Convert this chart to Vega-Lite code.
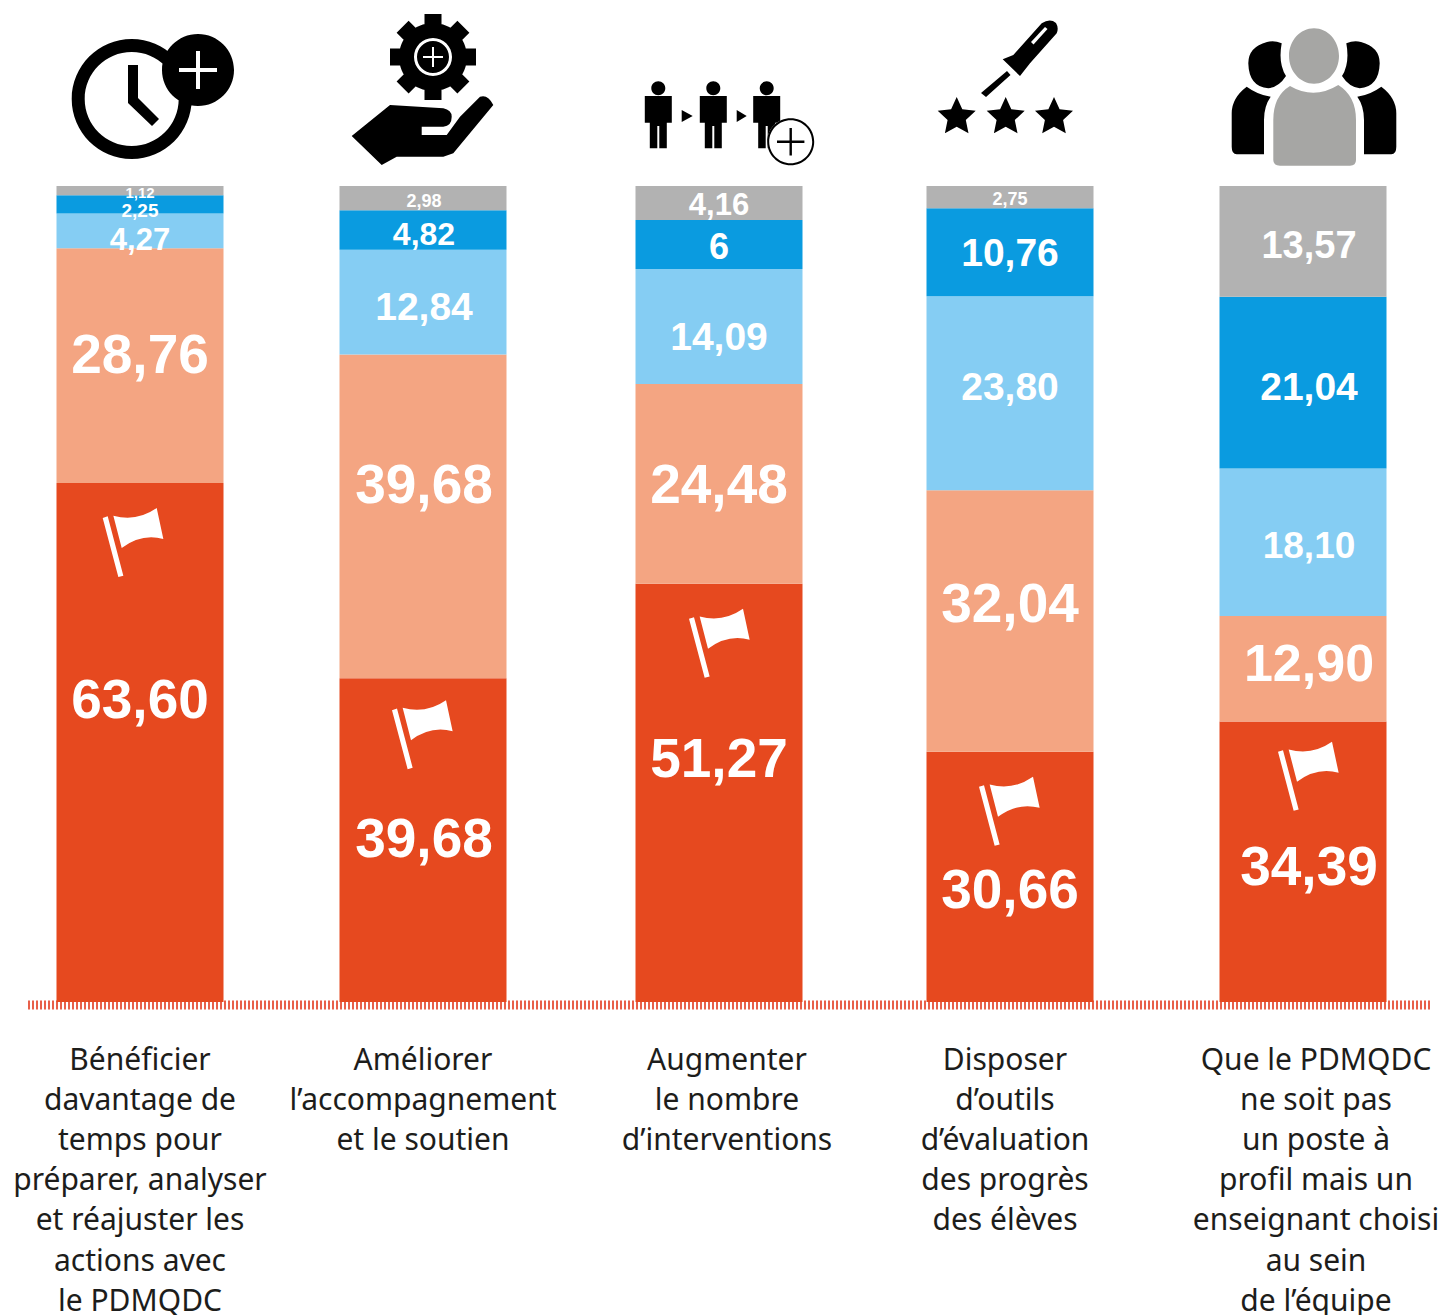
{
"$schema":"https://vega.github.io/schema/vega-lite/v6.json",
"width":1443,"height":1315,"padding":0,"autosize":{"type":"none"},"background":"white",
"config":{"view":{"stroke":null}},
"datasets":{
"bars":[
{"q":1,"level":1,"value":63.60,"label":"63,60"},{"q":1,"level":2,"value":28.76,"label":"28,76"},{"q":1,"level":3,"value":4.27,"label":"4,27"},{"q":1,"level":4,"value":2.25,"label":"2,25"},{"q":1,"level":5,"value":1.12,"label":"1,12"},
{"q":2,"level":1,"value":39.68,"label":"39,68"},{"q":2,"level":2,"value":39.68,"label":"39,68"},{"q":2,"level":3,"value":12.84,"label":"12,84"},{"q":2,"level":4,"value":4.82,"label":"4,82"},{"q":2,"level":5,"value":2.98,"label":"2,98"},
{"q":3,"level":1,"value":51.27,"label":"51,27"},{"q":3,"level":2,"value":24.48,"label":"24,48"},{"q":3,"level":3,"value":14.09,"label":"14,09"},{"q":3,"level":4,"value":6,"label":"6"},{"q":3,"level":5,"value":4.16,"label":"4,16"},
{"q":4,"level":1,"value":30.66,"label":"30,66"},{"q":4,"level":2,"value":32.04,"label":"32,04"},{"q":4,"level":3,"value":23.80,"label":"23,80"},{"q":4,"level":4,"value":10.76,"label":"10,76"},{"q":4,"level":5,"value":2.75,"label":"2,75"},
{"q":5,"level":1,"value":34.39,"label":"34,39"},{"q":5,"level":2,"value":12.90,"label":"12,90"},{"q":5,"level":3,"value":18.10,"label":"18,10"},{"q":5,"level":4,"value":21.04,"label":"21,04"},{"q":5,"level":5,"value":13.57,"label":"13,57"}
],
"cats":[
{"q":1,"at":-5.35,"text":"Bénéficier\ndavantage de\ntemps pour\npréparer, analyser\net réajuster les\nactions avec\nle PDMQDC"},
{"q":2,"at":-5.35,"text":"Améliorer\nl’accompagnement\net le soutien"},
{"q":3,"at":-5.35,"text":"Augmenter\nle nombre\nd’interventions"},
{"q":4,"at":-5.35,"text":"Disposer\nd’outils\nd’évaluation\ndes progrès\ndes élèves"},
{"q":5,"at":-5.35,"text":"Que le PDMQDC\nne soit pas\nun poste à\nprofil mais un\nenseignant choisi\nau sein\nde l’équipe"}
],
"flags":[{"q":1,"at":56.25},{"q":2,"at":32.7},{"q":3,"at":43.9},{"q":4,"at":23.3},{"q":5,"at":27.6}],
"icons":[
{"q":1,"part":"clock","at":111.76},{"q":1,"part":"clockplus","at":111.76},
{"q":2,"part":"gearhand","at":111.76},{"q":2,"part":"gearmark","at":111.76},
{"q":3,"part":"persons","at":111.76},{"q":3,"part":"disc","at":111.76},{"q":3,"part":"ringplus","at":111.76},
{"q":4,"part":"tool","at":111.76},{"q":4,"part":"slit","at":111.76},
{"q":5,"part":"sidepeople","at":111.76},{"q":5,"part":"leader","at":111.76}
]
},
"resolve":{"scale":{"x":"independent","color":"independent","fill":"independent","shape":"independent","size":"independent"}},
"layer":[
{"data":{"values":[{"from":28,"to":1430,"base":-0.37}]},
 "mark":{"type":"rule","color":"#E8604A","strokeWidth":9,"strokeDash":[2,2]},
 "encoding":{"x":{"field":"from","type":"quantitative","axis":null,"scale":{"domain":[0,1443],"range":[0,1443]}},"x2":{"field":"to"},"y":{"field":"base","type":"quantitative","axis":null,"scale":{"domain":[0,100],"range":[1002,186]}}}},
{"data":{"name":"bars"},
 "transform":[{"stack":"value","groupby":["q"],"sort":[{"field":"level","order":"ascending"}],"as":["y0","y1"]}],
 "mark":{"type":"bar","width":167,"orient":"vertical"},
 "encoding":{"x":{"field":"q","type":"quantitative","axis":null,"scale":{"domain":[1,2,3,4,5],"range":[140,423,719,1010,1303],"zero":false,"nice":false,"padding":0}},
 "y":{"field":"y0","type":"quantitative","axis":null,"scale":{"domain":[0,100],"range":[1002,186]}},"y2":{"field":"y1"},
 "color":{"field":"level","type":"nominal","legend":null,"scale":{"domain":[1,2,3,4,5],"range":["#E6491F","#F4A582","#85CDF3","#0A9BE0","#B2B2B2"]}}}},
{"data":{"name":"bars"},
 "transform":[{"stack":"value","groupby":["q"],"sort":[{"field":"level","order":"ascending"}],"as":["y0","y1"]},
 {"calculate":"({'63,60':-42,'28,76':-10,'4,27':10,'2,25':7,'1,12':2,'12,84':6,'4,82':5,'2,98':4,'51,27':-33,'24,48':2,'14,09':12,'6':4,'4,16':3,'30,66':14,'32,04':-16,'23,80':-5,'10,76':2,'2,75':3,'34,39':6,'12,90':-4,'18,10':5,'21,04':5,'13,57':6})[datum.label]||(datum.q===2&&datum.level===2?-30:0)","as":"shift"},
 {"calculate":"(datum.y0+datum.y1)/2-datum.shift/8.16","as":"labelAt"}],
 "mark":{"type":"text","font":"Liberation Sans","fontWeight":"bold","color":"white","baseline":"middle","align":"center"},
 "encoding":{"x":{"field":"q","type":"quantitative","axis":null,"scale":{"domain":[1,2,3,4,5],"range":[140,424,719,1010,1309],"zero":false,"nice":false}},
 "y":{"field":"labelAt","type":"quantitative","axis":null,"scale":{"domain":[0,100],"range":[1002,186]}},
 "text":{"field":"label","type":"nominal"},
 "size":{"field":"label","type":"ordinal","legend":null,"scale":{"type":"ordinal","domain":["63,60","28,76","39,68","51,27","24,48","32,04","30,66","34,39","12,90","12,84","14,09","23,80","18,10","21,04","13,57","10,76","4,82","4,16","6","4,27","2,25","1,12","2,98","2,75"],"range":[55,55,55,55,55,55,55,55,52,39,39,39,37,39,38,39,32,31,36,31,19,15,18,18]}}}},
{"data":{"name":"flags"},
 "mark":{"type":"point","filled":true,"opacity":1,"strokeWidth":0,"color":"white","size":10000,"shape":"M-.58,-.5 L-.48,-.533 L-.167,.653 L-.267,.68Z M-.367,-.547 Q.1,-.42 .5,-.7 L.633,-.08 Q.2,-.2 -.2,.1Z"},
 "encoding":{"x":{"field":"q","type":"quantitative","axis":null,"scale":{"domain":[1,2,3,4,5],"range":[131.7,421,718,1008,1307],"zero":false,"nice":false}},
 "y":{"field":"at","type":"quantitative","axis":null,"scale":{"domain":[0,100],"range":[1002,186]}}}},
{"data":{"name":"icons"},
 "mark":{"type":"point","filled":true,"opacity":1,"strokeWidth":0,"size":40000},
 "encoding":{"x":{"field":"q","type":"quantitative","axis":null,"scale":{"domain":[1,2,3,4,5],"range":[140,423,719,1010,1303],"zero":false,"nice":false}},
 "y":{"field":"at","type":"quantitative","axis":null,"scale":{"domain":[0,100],"range":[1002,186]}},
 "fill":{"field":"part","type":"nominal","legend":null,"scale":{"domain":["clock","clockplus","gearhand","gearmark","persons","disc","ringplus","tool","slit","sidepeople","leader"],"range":["#000000","#ffffff","#000000","#ffffff","#000000","#ffffff","#000000","#000000","#ffffff","#000000","#A6A6A4"]}},
 "shape":{"field":"part","type":"nominal","legend":null,"scale":{"domain":["clock","clockplus","gearhand","gearmark","persons","disc","ringplus","tool","slit","sidepeople","leader"],"range":[
 "M-.683,.09 A.6,.6 0 1 1 .517,.09 A.6,.6 0 1 1 -.683,.09Z M-.553,.09 A.47,.47 0 1 0 .387,.09 A.47,.47 0 1 0 -.553,.09Z M.22,-.2 A.36,.36 0 1 1 .94,-.2 A.36,.36 0 1 1 .22,-.2Z M-.12,-.25 L-.02,-.25 L-.02,.08 L.19,.29 L.12,.36 L-.12,.13Z",
 "M.39,-.22 L.77,-.22 L.77,-.18 L.39,-.18Z M.56,-.39 L.60,-.39 L.60,-.01 L.56,-.01Z",
 "M-.33,-.415 L.53,-.415 L.53,-.245 L-.33,-.245Z M.185,-.76 L.185,.10 L.015,.10 L.015,-.76Z M-.144,-.694 L.464,-.086 L.344,.034 L-.264,-.574Z M-.264,-.086 L.344,-.694 L.464,-.574 L-.144,.034Z M-.24,-.33 A.34,.34 0 1 1 .44,-.33 A.34,.34 0 1 1 -.24,-.33Z M-.713,.46 L-.33,.15 L.203,.183 Q.287,.2 .287,.267 Q.287,.36 .203,.367 L-.013,.367 L-.013,.45 L.237,.45 L.37,.267 L.57,.067 Q.65,.04 .703,.15 L.303,.633 L.203,.667 L-.263,.667 L-.413,.75Z",
 "M-.09,-.33 A.19,.19 0 1 1 .29,-.33 A.19,.19 0 1 1 -.09,-.33Z M-.06,-.33 A.16,.16 0 1 0 .26,-.33 A.16,.16 0 1 0 -.06,-.33Z M0,-.34 L.2,-.34 L.2,-.32 L0,-.32Z M.09,-.43 L.11,-.43 L.11,-.23 L.09,-.23Z",
 "M-.742,.06 L-.472,.06 L-.472,.327 L-.522,.327 L-.522,.583 L-.597,.583 L-.597,.36 L-.617,.36 L-.617,.583 L-.692,.583 L-.692,.327 L-.742,.327Z M-.677,-.017 A.07,.07 0 1 1 -.537,-.017 A.07,.07 0 1 1 -.677,-.017Z M-.192,.06 L.078,.06 L.078,.327 L.028,.327 L.028,.583 L-.047,.583 L-.047,.36 L-.067,.36 L-.067,.583 L-.142,.583 L-.142,.327 L-.192,.327Z M-.127,-.017 A.07,.07 0 1 1 .013,-.017 A.07,.07 0 1 1 -.127,-.017Z M.342,.06 L.612,.06 L.612,.327 L.562,.327 L.562,.583 L.487,.583 L.487,.36 L.467,.36 L.467,.583 L.392,.583 L.392,.327 L.342,.327Z M.407,-.017 A.07,.07 0 1 1 .547,-.017 A.07,.07 0 1 1 .407,-.017Z M-.373,.2 L-.263,.26 L-.373,.32Z M.177,.2 L.277,.26 L.177,.32Z",
 "M.482,.517 A.235,.235 0 1 1 .952,.517 A.235,.235 0 1 1 .482,.517Z",
 "M.482,.517 A.235,.235 0 1 1 .952,.517 A.235,.235 0 1 1 .482,.517Z M.502,.517 A.215,.215 0 1 0 .932,.517 A.215,.215 0 1 0 .502,.517Z M.58,.505 L.854,.505 L.854,.529 L.58,.529Z M.705,.38 L.729,.38 L.729,.654 L.705,.654Z",
 "M.317,-.667 Q.40,-.72 .46,-.67 Q.49,-.62 .467,-.567 L.20,-.267 L.10,-.14 L-.073,-.307 L.033,-.35Z M-.03,-.19 L.005,-.15 L-.24,.07 L-.29,.03Z M-.533,.07 L-.477,.192 L-.343,.208 L-.442,.30 L-.415,.432 L-.533,.366 L-.651,.432 L-.624,.30 L-.723,.208 L-.589,.192Z M-.043,.07 L.013,.192 L.147,.208 L.048,.30 L.075,.432 L-.043,.366 L-.161,.432 L-.134,.30 L-.233,.208 L-.099,.192Z M.44,.07 L.496,.192 L.63,.208 L.531,.30 L.558,.432 L.44,.366 L.322,.432 L.349,.30 L.25,.208 L.384,.192Z",
 "M.21,-.48 L.35,-.63 L.375,-.61 L.235,-.455Z",
 "M-.213,-.467 Q-.29,-.50 -.36,-.48 Q-.547,-.43 -.547,-.267 Q-.54,-.03 -.347,-.017 Q-.24,-.03 -.17,-.14 Q-.25,-.27 -.213,-.467Z M.433,-.467 Q.51,-.50 .58,-.48 Q.767,-.43 .767,-.267 Q.76,-.03 .567,-.017 Q.46,-.03 .39,-.14 Q.47,-.27 .433,-.467Z M-.563,-.033 Q-.713,.08 -.713,.233 L-.713,.567 Q-.713,.643 -.663,.643 L-.39,.643 L-.39,.30 Q-.39,.16 -.323,.067 Q-.45,.05 -.563,-.033Z M.783,-.033 Q.933,.08 .933,.233 L.933,.567 Q.933,.643 .883,.643 L.61,.643 L.61,.30 Q.61,.16 .543,.067 Q.67,.05 .783,-.033Z",
 "M-.14,-.34 A.25,.277 0 1 1 .36,-.34 A.25,.277 0 1 1 -.14,-.34Z M-.13,-.04 Q.11,.10 .353,-.05 Q.53,.06 .53,.30 L.53,.70 Q.53,.757 .47,.757 L-.23,.757 Q-.297,.757 -.297,.70 L-.297,.30 Q-.297,.06 -.13,-.04Z"
 ]}}}},
{"data":{"name":"cats"},
 "mark":{"type":"text","font":"Noto Sans","fontSize":30,"color":"#1D1D1B","baseline":"top","align":"center","lineBreak":"\n","lineHeight":40.2},
 "encoding":{"x":{"field":"q","type":"quantitative","axis":null,"scale":{"domain":[1,2,3,4,5],"range":[140,423,727,1005,1316],"zero":false,"nice":false}},
 "y":{"field":"at","type":"quantitative","axis":null,"scale":{"domain":[0,100],"range":[1002,186]}},
 "text":{"field":"text","type":"nominal"}}}
]
}
